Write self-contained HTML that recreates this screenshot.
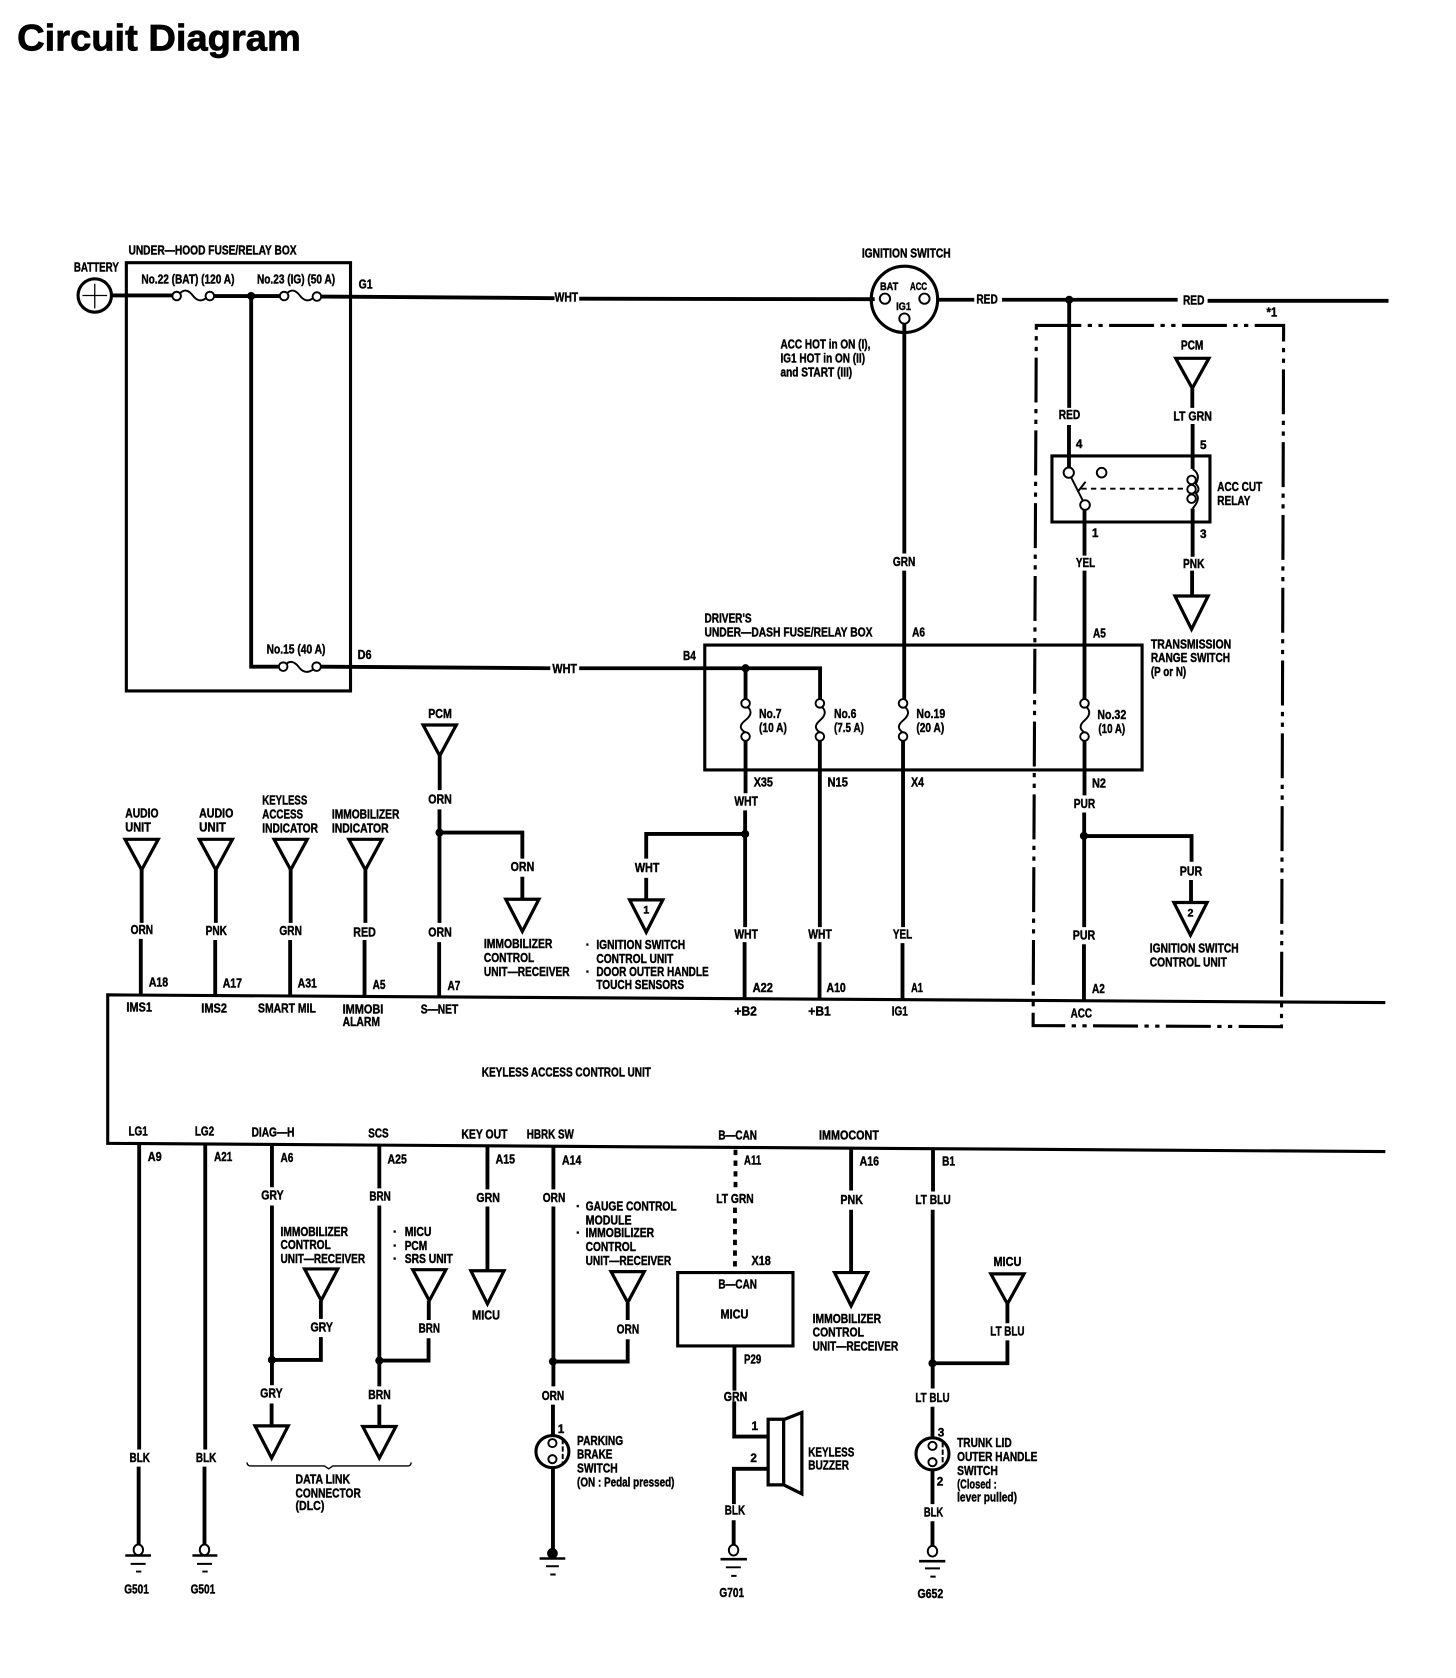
<!DOCTYPE html>
<html lang="en">
<head>
<meta charset="utf-8">
<title>Circuit Diagram</title>
<style>
html,body{margin:0;padding:0;background:#fff;width:1456px;height:1678px;overflow:hidden}
svg{display:block}
text{font-family:"Liberation Sans",sans-serif;font-weight:bold;font-size:12px;fill:#000;stroke:#000;stroke-width:.4}
.w{fill:none;stroke:#000;stroke-width:3.6}
.b{fill:none;stroke:#000;stroke-width:2.9}
.n{fill:none;stroke:#000;stroke-width:1.8}
.o{fill:#fff;stroke:#000;stroke-width:1.8}
.t{fill:#fff;stroke:#000;stroke-width:3}
.k{fill:#000;stroke:none}
</style>
</head>
<body>
<svg xmlns="http://www.w3.org/2000/svg" width="1456" height="1678" viewBox="0 0 1360 1567.4">
<rect width="1360" height="1567.4" fill="#fff"/>
<text x="16" y="47" textLength="265" lengthAdjust="spacingAndGlyphs" style="font-size:35px;stroke-width:.7">Circuit Diagram</text>

<!-- boxes -->
<path class="b" d="M118 245.4H327.4V645.4H118Z"/>
<path class="b" d="M658.3 602.5H1066.8V719.2H658.3Z"/>
<path class="b" d="M982.6 425.9H1130.2V487.6H982.6Z"/>
<path class="b" d="M633 1188.7H740.7V1257.2H633Z"/>
<path class="b" d="M1294 936.5L100.6 929.3V1068L1294 1075.7"/>
<path class="b" stroke-dasharray="42 6 4 6 4 6" d="M968 304H1199L1197 959L965 958Z"/>

<!-- top wires -->
<path class="w" d="M104 276H161M200 276.5H261M300 277L518 278.5M541 279L817 279.5M875 280H910M936 280H1100M1128 281H1297"/>
<path class="w" d="M234.6 276.5V622.7H260M300 622.7L514 624.2M541 624.2H766V653M696.4 624.2V653"/>
<circle class="k" cx="234.6" cy="276.5" r="3.8"/>
<circle class="k" cx="696.4" cy="624.2" r="3.8"/>
<circle class="k" cx="998.7" cy="280" r="3.8"/>

<!-- battery -->
<circle class="b" cx="88.5" cy="276" r="15.6"/>
<path class="n" d="M77 276H100M88.5 265V288" style="stroke-width:1.2"/>

<!-- horizontal fuses -->
<path class="n" d="M168 274Q174 268 180 276T193 278M268 274Q274 268 280 276T293 278M267 620.5Q273 615 279 623T293 625"/>
<circle class="o" cx="165" cy="276.5" r="4"/><circle class="o" cx="196" cy="276.5" r="4"/>
<circle class="o" cx="265.4" cy="276.5" r="4"/><circle class="o" cx="296" cy="277" r="4"/>
<circle class="o" cx="264.5" cy="622.7" r="4"/><circle class="o" cx="295.7" cy="622.7" r="4"/>

<!-- ignition switch -->
<circle class="b" cx="844.8" cy="279.6" r="31"/>
<circle class="o" cx="826.6" cy="279" r="4.8"/><circle class="o" cx="863.5" cy="279" r="4.8"/><circle class="o" cx="844.8" cy="297.6" r="4.8"/>

<!-- vertical through wires -->
<path class="w" d="M844.7 302V517M844.6 533V653M843.5 692V866M843 881V933"/>
<path class="w" d="M998.7 280V381M998.5 397V437"/>
<path class="w" d="M1013 476V519M1013 533V653M1013 692V743M1012.7 759V866M1012.5 882V935"/>
<path class="w" d="M1113.7 363V381M1114 396V438M1114 475V520M1113.5 533V557"/>
<path class="w" d="M696.4 692V741M696 757V866M695.5 880V933M696 779H603.6V802M603.6 820V840"/>
<path class="w" d="M765.8 692V866M765.5 880V933"/>
<path class="w" d="M1012.5 781H1113V805M1112.5 822V843"/>
<circle class="k" cx="696" cy="779" r="3.8"/>
<circle class="k" cx="1012.5" cy="780.8" r="3.8"/>

<!-- vertical fuses -->
<path class="n" d="M698 660Q705 666 696 673T698 685M767.5 660Q774 666 765.8 673T767.5 685M845 660Q852 666 843.5 673T845 685M1014.5 660Q1021 666 1013 673T1014.5 685"/>
<circle class="o" cx="696.4" cy="657" r="4"/><circle class="o" cx="696.4" cy="688" r="4"/>
<circle class="o" cx="765.8" cy="657" r="4"/><circle class="o" cx="765.8" cy="688" r="4"/>
<circle class="o" cx="843.5" cy="657" r="4"/><circle class="o" cx="843.5" cy="688" r="4"/>
<circle class="o" cx="1013" cy="657" r="4"/><circle class="o" cx="1013" cy="688" r="4"/>

<!-- relay -->
<path class="n" d="M998.3 441.5L1013.5 471.7M1007 459L1014 450"/>
<path class="n" stroke-dasharray="5 4" d="M1010 456.5H1107"/>
<circle class="o" cx="998.3" cy="441.5" r="4.8"/><circle class="o" cx="1029" cy="441.5" r="4.5"/><circle class="o" cx="1013.5" cy="471.7" r="4.5"/>
<path class="n" d="M1114 438Q1122 443 1117 452Q1122 457 1117 461Q1122 466 1114 475"/>
<circle class="n" cx="1113" cy="448.3" r="4"/><circle class="n" cx="1113" cy="457" r="4"/><circle class="n" cx="1113" cy="465.8" r="4"/>

<!-- input triangles -->
<path class="t" d="M1098.2 334.7H1129.2L1113.7 362.7Z"/>
<path class="t" d="M1097.5 556.7H1128.5L1113 587.8Z"/>
<path class="t" d="M116.8 784H147.8L132.3 812.6Z"/>
<path class="t" d="M186.1 784H217.1L201.6 812.6Z"/>
<path class="t" d="M256 784H287L271.5 812.6Z"/>
<path class="t" d="M325.8 784H356.8L341.3 812.6Z"/>
<path class="t" d="M395.2 677.2H426.2L410.7 706Z"/>
<path class="t" d="M472.4 840H503.4L487.9 870Z"/>
<path class="t" d="M588.1 840.6H619.1L603.6 870.8Z"/>
<path class="t" d="M1096.5 843H1127.5L1112 873.6Z"/>
<path class="w" d="M132.3 812V862M131.5 877V930M201.6 812V862M201 878V930M271.5 812V862M271 878V930M341.3 812V862M340.5 878V931"/>
<path class="w" d="M410.7 706V738M410.5 756V862M410.2 880V931M410.5 777.7H487.9V802M487.9 819V840"/>
<circle class="k" cx="410.5" cy="777.7" r="3.8"/>

<!-- lower wires -->
<path class="w" d="M130 1068V1354M129.5 1370V1443M191.7 1069V1354M191 1370V1443"/>
<path class="w" d="M254 1069V1109M254 1126V1294M253.7 1311V1332M254 1270.3H299.7V1249M299.7 1232V1215"/>
<path class="w" d="M354.3 1070V1110M354.3 1126V1295M354.3 1312V1332M354.3 1270.9H400.3V1250M400.5 1233V1215"/>
<path class="w" d="M455.3 1071V1111M455.3 1127V1187"/>
<path class="w" d="M516.9 1071V1111M516.9 1127V1295M516.5 1312V1341M516.5 1371V1450M516.5 1271.8H586.3V1251M586.3 1233V1217"/>
<path class="w" stroke-dasharray="5 5" d="M687 1074V1112M686.5 1128V1188"/>
<path class="w" d="M686 1258V1299M685.8 1309V1341.9H718M718 1372H685.5V1405M685.3 1420V1443"/>
<path class="w" d="M795 1073V1112M795 1130V1189"/>
<path class="w" d="M871.5 1074V1113M871.2 1130V1297M871 1314V1342M871 1373V1405M871 1421V1444M871 1273.4H941V1252M941 1236V1218"/>
<circle class="k" cx="254" cy="1270.3" r="3.8"/>
<circle class="k" cx="354.3" cy="1270.9" r="3.8"/>
<circle class="k" cx="516.5" cy="1271.8" r="3.8"/>
<circle class="k" cx="871" cy="1273.4" r="3.8"/>

<!-- lower triangles -->
<path class="t" d="M284.5 1185.3H315.5L300 1214.8Z"/>
<path class="t" d="M385.5 1186H416.5L401 1215Z"/>
<path class="t" d="M439.8 1187H470.8L455.3 1218Z"/>
<path class="t" d="M570.8 1187.8H601.8L586.3 1216.7Z"/>
<path class="t" d="M779.5 1188.7H810.5L795 1219.8Z"/>
<path class="t" d="M925.5 1189.9H956.5L941 1218Z"/>
<path class="t" d="M238.2 1331.9H269.2L253.7 1362Z"/>
<path class="t" d="M338.8 1332.5H369.8L354.3 1362Z"/>

<!-- brace -->
<path class="n" style="stroke-width:1.3" d="M230.7 1366Q231 1369.3 234 1369.3H303L307 1372L311 1369.3H381Q384 1369.3 384 1366"/>

<!-- switches -->
<ellipse class="b" cx="516" cy="1355.9" rx="15.4" ry="15"/>
<circle class="o" cx="516" cy="1348" r="3.8"/><circle class="o" cx="516" cy="1363" r="3.8"/>
<path class="n" stroke-dasharray="5 2" d="M525.6 1344V1368"/>
<ellipse class="b" cx="871" cy="1358" rx="15.4" ry="15"/>
<circle class="o" cx="871" cy="1350.6" r="3.8"/><circle class="o" cx="871" cy="1365.8" r="3.8"/>
<path class="n" stroke-dasharray="5 2" d="M880.5 1347V1371"/>

<!-- buzzer -->
<path class="t" d="M717.5 1325.7H732V1387H717.5Z"/>
<path class="t" d="M732 1326L749 1319.4V1395.4L732 1387Z"/>

<!-- grounds -->
<ellipse class="o" cx="129.2" cy="1447.7" rx="4.4" ry="5"/>
<ellipse class="o" cx="191" cy="1447.7" rx="4.4" ry="5"/>
<ellipse class="o" cx="685.2" cy="1448" rx="4.4" ry="5"/>
<ellipse class="o" cx="871" cy="1449" rx="4.4" ry="5"/>
<circle class="k" cx="516" cy="1451" r="5"/>
<path class="n" d="M117 1453H141M179.7 1453H203M504 1455.8H528M673 1456.4H697.7M858.5 1458.3H883" style="stroke-width:2.4"/>
<path class="n" d="M122 1460.8H136M127 1468H132M184 1460.8H198M189 1468H194M510 1463H522M514 1470.7H519M678 1464H692M683 1472H688M864 1465H878M869 1472.7H874"/>

<!-- labels -->
<g transform="translate(0,-0.8)">
<text x="120" y="238.4" textLength="157" lengthAdjust="spacingAndGlyphs">UNDER—HOOD FUSE/RELAY BOX</text>
<text x="69" y="254.4" textLength="42" lengthAdjust="spacingAndGlyphs">BATTERY</text>
<text x="132" y="265.4" textLength="87" lengthAdjust="spacingAndGlyphs">No.22 (BAT) (120 A)</text>
<text x="240" y="265.4" textLength="73" lengthAdjust="spacingAndGlyphs">No.23 (IG) (50 A)</text>
<text x="335" y="270.4" textLength="13" lengthAdjust="spacingAndGlyphs">G1</text>
<text x="518" y="282.4" textLength="22" lengthAdjust="spacingAndGlyphs">WHT</text>
<text x="805" y="241.4" textLength="83" lengthAdjust="spacingAndGlyphs">IGNITION SWITCH</text>
<text x="822" y="271.5" textLength="17" lengthAdjust="spacingAndGlyphs" style="font-size:10px">BAT</text>
<text x="850" y="271.5" textLength="16" lengthAdjust="spacingAndGlyphs" style="font-size:10px">ACC</text>
<text x="837" y="290.5" textLength="14" lengthAdjust="spacingAndGlyphs" style="font-size:10px">IG1</text>
<text x="912" y="284.4" textLength="20" lengthAdjust="spacingAndGlyphs">RED</text>
<text x="1105" y="285.4" textLength="20" lengthAdjust="spacingAndGlyphs">RED</text>
<text x="1183" y="296.4" textLength="10" lengthAdjust="spacingAndGlyphs">*1</text>
<text x="729" y="326.4" textLength="84" lengthAdjust="spacingAndGlyphs">ACC HOT in ON (I),</text>
<text x="729" y="339.4" textLength="79" lengthAdjust="spacingAndGlyphs">IG1 HOT in ON (II)</text>
<text x="729" y="352.4" textLength="67" lengthAdjust="spacingAndGlyphs">and START (III)</text>
<text x="1103" y="327.4" textLength="21" lengthAdjust="spacingAndGlyphs">PCM</text>
<text x="989" y="392.4" textLength="20" lengthAdjust="spacingAndGlyphs">RED</text>
<text x="1096" y="393.4" textLength="36" lengthAdjust="spacingAndGlyphs">LT GRN</text>
<text x="1008" y="419.4" text-anchor="middle" style="font-size:11px">4</text>
<text x="1124" y="420.4" text-anchor="middle" style="font-size:11px">5</text>
<text x="1137" y="459.4" textLength="42" lengthAdjust="spacingAndGlyphs">ACC CUT</text>
<text x="1137" y="472.4" textLength="31" lengthAdjust="spacingAndGlyphs">RELAY</text>
<text x="1023" y="502.4" text-anchor="middle" style="font-size:11px">1</text>
<text x="1124" y="503.4" text-anchor="middle" style="font-size:11px">3</text>
<text x="834" y="529.4" textLength="21" lengthAdjust="spacingAndGlyphs">GRN</text>
<text x="1005" y="530.4" textLength="18" lengthAdjust="spacingAndGlyphs">YEL</text>
<text x="1105" y="531.4" textLength="20" lengthAdjust="spacingAndGlyphs">PNK</text>
<text x="658" y="582.4" textLength="44" lengthAdjust="spacingAndGlyphs">DRIVER'S</text>
<text x="658" y="595.4" textLength="157" lengthAdjust="spacingAndGlyphs">UNDER—DASH FUSE/RELAY BOX</text>
<text x="852" y="595.4" textLength="12" lengthAdjust="spacingAndGlyphs">A6</text>
<text x="1021" y="596.4" textLength="12" lengthAdjust="spacingAndGlyphs">A5</text>
<text x="1075" y="606.4" textLength="75" lengthAdjust="spacingAndGlyphs">TRANSMISSION</text>
<text x="1075" y="619.4" textLength="74" lengthAdjust="spacingAndGlyphs">RANGE SWITCH</text>
<text x="1075" y="632.4" textLength="33" lengthAdjust="spacingAndGlyphs">(P or N)</text>
<text x="249" y="611.4" textLength="55" lengthAdjust="spacingAndGlyphs">No.15 (40 A)</text>
<text x="334" y="616.4" textLength="13" lengthAdjust="spacingAndGlyphs">D6</text>
<text x="516" y="629.4" textLength="23" lengthAdjust="spacingAndGlyphs">WHT</text>
<text x="638" y="617.4" textLength="12" lengthAdjust="spacingAndGlyphs">B4</text>
<text x="400" y="671.4" textLength="22" lengthAdjust="spacingAndGlyphs">PCM</text>
<text x="709" y="671.4" textLength="21" lengthAdjust="spacingAndGlyphs">No.7</text>
<text x="709" y="684.4" textLength="26" lengthAdjust="spacingAndGlyphs">(10 A)</text>
<text x="779" y="671.4" textLength="21" lengthAdjust="spacingAndGlyphs">No.6</text>
<text x="779" y="684.4" textLength="28" lengthAdjust="spacingAndGlyphs">(7.5 A)</text>
<text x="856" y="671.4" textLength="27" lengthAdjust="spacingAndGlyphs">No.19</text>
<text x="856" y="684.4" textLength="26" lengthAdjust="spacingAndGlyphs">(20 A)</text>
<text x="1025" y="672.4" textLength="27" lengthAdjust="spacingAndGlyphs">No.32</text>
<text x="1026" y="685.4" textLength="25" lengthAdjust="spacingAndGlyphs">(10 A)</text>
<text x="704" y="735.4" textLength="18" lengthAdjust="spacingAndGlyphs">X35</text>
<text x="773" y="735.4" textLength="19" lengthAdjust="spacingAndGlyphs">N15</text>
<text x="851" y="735.4" textLength="12" lengthAdjust="spacingAndGlyphs">X4</text>
<text x="1020" y="736.4" textLength="13" lengthAdjust="spacingAndGlyphs">N2</text>
<text x="686" y="753.4" textLength="22" lengthAdjust="spacingAndGlyphs">WHT</text>
<text x="400" y="751.4" textLength="22" lengthAdjust="spacingAndGlyphs">ORN</text>
<text x="1003" y="755.4" textLength="20" lengthAdjust="spacingAndGlyphs">PUR</text>
<text x="117" y="764.4" textLength="31" lengthAdjust="spacingAndGlyphs">AUDIO</text>
<text x="117" y="777.4" textLength="24" lengthAdjust="spacingAndGlyphs">UNIT</text>
<text x="186" y="764.4" textLength="32" lengthAdjust="spacingAndGlyphs">AUDIO</text>
<text x="186" y="777.4" textLength="25" lengthAdjust="spacingAndGlyphs">UNIT</text>
<text x="245" y="752.4" textLength="42" lengthAdjust="spacingAndGlyphs">KEYLESS</text>
<text x="245" y="765.4" textLength="38" lengthAdjust="spacingAndGlyphs">ACCESS</text>
<text x="245" y="778.4" textLength="52" lengthAdjust="spacingAndGlyphs">INDICATOR</text>
<text x="310" y="765.4" textLength="63" lengthAdjust="spacingAndGlyphs">IMMOBILIZER</text>
<text x="310" y="778.4" textLength="53" lengthAdjust="spacingAndGlyphs">INDICATOR</text>
<text x="122" y="873.4" textLength="21" lengthAdjust="spacingAndGlyphs">ORN</text>
<text x="192" y="874.4" textLength="20" lengthAdjust="spacingAndGlyphs">PNK</text>
<text x="261" y="874.4" textLength="21" lengthAdjust="spacingAndGlyphs">GRN</text>
<text x="330" y="875.4" textLength="21" lengthAdjust="spacingAndGlyphs">RED</text>
<text x="400" y="875.4" textLength="22" lengthAdjust="spacingAndGlyphs">ORN</text>
<text x="477" y="814.4" textLength="22" lengthAdjust="spacingAndGlyphs">ORN</text>
<text x="593" y="815.4" textLength="23" lengthAdjust="spacingAndGlyphs">WHT</text>
<text x="1102" y="818.4" textLength="21" lengthAdjust="spacingAndGlyphs">PUR</text>
<text x="603.6" y="854" text-anchor="middle" style="font-size:10px">1</text>
<text x="1112" y="857" text-anchor="middle" style="font-size:10px">2</text>
<text x="452" y="886.4" textLength="64" lengthAdjust="spacingAndGlyphs">IMMOBILIZER</text>
<text x="452" y="899.4" textLength="47" lengthAdjust="spacingAndGlyphs">CONTROL</text>
<text x="452" y="912.4" textLength="80" lengthAdjust="spacingAndGlyphs">UNIT—RECEIVER</text>
<text x="547" y="887.4">·</text>
<text x="547" y="912.4">·</text>
<text x="557" y="887.4" textLength="83" lengthAdjust="spacingAndGlyphs">IGNITION SWITCH</text>
<text x="557" y="900.4" textLength="72" lengthAdjust="spacingAndGlyphs">CONTROL UNIT</text>
<text x="557" y="912.4" textLength="105" lengthAdjust="spacingAndGlyphs">DOOR OUTER HANDLE</text>
<text x="557" y="924.4" textLength="82" lengthAdjust="spacingAndGlyphs">TOUCH SENSORS</text>
<text x="686" y="877.4" textLength="22" lengthAdjust="spacingAndGlyphs">WHT</text>
<text x="755" y="877.4" textLength="22" lengthAdjust="spacingAndGlyphs">WHT</text>
<text x="834" y="877.4" textLength="18" lengthAdjust="spacingAndGlyphs">YEL</text>
<text x="1002" y="878.4" textLength="21" lengthAdjust="spacingAndGlyphs">PUR</text>
<text x="1074" y="890.4" textLength="83" lengthAdjust="spacingAndGlyphs">IGNITION SWITCH</text>
<text x="1074" y="903.4" textLength="72" lengthAdjust="spacingAndGlyphs">CONTROL UNIT</text>
<text x="139" y="922.4" textLength="18" lengthAdjust="spacingAndGlyphs">A18</text>
<text x="208" y="923.4" textLength="18" lengthAdjust="spacingAndGlyphs">A17</text>
<text x="278" y="923.4" textLength="18" lengthAdjust="spacingAndGlyphs">A31</text>
<text x="348" y="924.4" textLength="12" lengthAdjust="spacingAndGlyphs">A5</text>
<text x="418" y="925.4" textLength="12" lengthAdjust="spacingAndGlyphs">A7</text>
<text x="703" y="927.4" textLength="19" lengthAdjust="spacingAndGlyphs">A22</text>
<text x="772" y="927.4" textLength="18" lengthAdjust="spacingAndGlyphs">A10</text>
<text x="851" y="927.4" textLength="11" lengthAdjust="spacingAndGlyphs">A1</text>
<text x="1020" y="928.4" textLength="12" lengthAdjust="spacingAndGlyphs">A2</text>
<text x="118" y="945.4" textLength="24" lengthAdjust="spacingAndGlyphs">IMS1</text>
<text x="188" y="946.4" textLength="24" lengthAdjust="spacingAndGlyphs">IMS2</text>
<text x="241" y="946.4" textLength="54" lengthAdjust="spacingAndGlyphs">SMART MIL</text>
<text x="320" y="947.4" textLength="38" lengthAdjust="spacingAndGlyphs">IMMOBI</text>
<text x="320" y="959.4" textLength="35" lengthAdjust="spacingAndGlyphs">ALARM</text>
<text x="393" y="947.4" textLength="35" lengthAdjust="spacingAndGlyphs">S—NET</text>
<text x="686" y="949.4" textLength="21" lengthAdjust="spacingAndGlyphs">+B2</text>
<text x="755" y="949.4" textLength="21" lengthAdjust="spacingAndGlyphs">+B1</text>
<text x="833" y="949.4" textLength="15" lengthAdjust="spacingAndGlyphs">IG1</text>
<text x="1000" y="951.4" textLength="20" lengthAdjust="spacingAndGlyphs">ACC</text>
<text x="450" y="1006.4" textLength="158" lengthAdjust="spacingAndGlyphs">KEYLESS ACCESS CONTROL UNIT</text>
<text x="120" y="1061.4" textLength="18" lengthAdjust="spacingAndGlyphs">LG1</text>
<text x="182" y="1061.4" textLength="18" lengthAdjust="spacingAndGlyphs">LG2</text>
<text x="235" y="1062.4" textLength="40" lengthAdjust="spacingAndGlyphs">DIAG—H</text>
<text x="344" y="1063.4" textLength="19" lengthAdjust="spacingAndGlyphs">SCS</text>
<text x="431" y="1064.4" textLength="43" lengthAdjust="spacingAndGlyphs">KEY OUT</text>
<text x="492" y="1064.4" textLength="44" lengthAdjust="spacingAndGlyphs">HBRK SW</text>
<text x="671" y="1065.4" textLength="36" lengthAdjust="spacingAndGlyphs">B—CAN</text>
<text x="765" y="1065.4" textLength="56" lengthAdjust="spacingAndGlyphs">IMMOCONT</text>
<text x="138" y="1085.4" textLength="13" lengthAdjust="spacingAndGlyphs">A9</text>
<text x="200" y="1085.4" textLength="17" lengthAdjust="spacingAndGlyphs">A21</text>
<text x="262" y="1086.4" textLength="12" lengthAdjust="spacingAndGlyphs">A6</text>
<text x="362" y="1087.4" textLength="18" lengthAdjust="spacingAndGlyphs">A25</text>
<text x="463" y="1087.4" textLength="18" lengthAdjust="spacingAndGlyphs">A15</text>
<text x="525" y="1088.4" textLength="18" lengthAdjust="spacingAndGlyphs">A14</text>
<text x="695" y="1088.4" textLength="16" lengthAdjust="spacingAndGlyphs">A11</text>
<text x="803" y="1089.4" textLength="18" lengthAdjust="spacingAndGlyphs">A16</text>
<text x="880" y="1089.4" textLength="12" lengthAdjust="spacingAndGlyphs">B1</text>
<text x="244" y="1121.4" textLength="21" lengthAdjust="spacingAndGlyphs">GRY</text>
<text x="345" y="1122.4" textLength="20" lengthAdjust="spacingAndGlyphs">BRN</text>
<text x="445" y="1123.4" textLength="22" lengthAdjust="spacingAndGlyphs">GRN</text>
<text x="507" y="1123.4" textLength="21" lengthAdjust="spacingAndGlyphs">ORN</text>
<text x="669" y="1124.4" textLength="35" lengthAdjust="spacingAndGlyphs">LT GRN</text>
<text x="785" y="1125.4" textLength="21" lengthAdjust="spacingAndGlyphs">PNK</text>
<text x="855" y="1125.4" textLength="33" lengthAdjust="spacingAndGlyphs">LT BLU</text>
<text x="262" y="1155.4" textLength="63" lengthAdjust="spacingAndGlyphs">IMMOBILIZER</text>
<text x="262" y="1167.4" textLength="47" lengthAdjust="spacingAndGlyphs">CONTROL</text>
<text x="262" y="1180.4" textLength="79" lengthAdjust="spacingAndGlyphs">UNIT—RECEIVER</text>
<text x="367" y="1155.4">·</text>
<text x="367" y="1168.4">·</text>
<text x="367" y="1180.4">·</text>
<text x="378" y="1155.4" textLength="25" lengthAdjust="spacingAndGlyphs">MICU</text>
<text x="378" y="1168.4" textLength="21" lengthAdjust="spacingAndGlyphs">PCM</text>
<text x="378" y="1180.4" textLength="45" lengthAdjust="spacingAndGlyphs">SRS UNIT</text>
<text x="441" y="1233.4" textLength="26" lengthAdjust="spacingAndGlyphs">MICU</text>
<text x="538" y="1131.4">·</text>
<text x="538" y="1156.4">·</text>
<text x="547" y="1131.4" textLength="85" lengthAdjust="spacingAndGlyphs">GAUGE CONTROL</text>
<text x="547" y="1144.4" textLength="43" lengthAdjust="spacingAndGlyphs">MODULE</text>
<text x="547" y="1156.4" textLength="64" lengthAdjust="spacingAndGlyphs">IMMOBILIZER</text>
<text x="547" y="1169.4" textLength="47" lengthAdjust="spacingAndGlyphs">CONTROL</text>
<text x="547" y="1182.4" textLength="80" lengthAdjust="spacingAndGlyphs">UNIT—RECEIVER</text>
<text x="702" y="1182.4" textLength="18" lengthAdjust="spacingAndGlyphs">X18</text>
<text x="671" y="1204.4" textLength="36" lengthAdjust="spacingAndGlyphs">B—CAN</text>
<text x="673" y="1232.4" textLength="26" lengthAdjust="spacingAndGlyphs">MICU</text>
<text x="695" y="1274.4" textLength="16" lengthAdjust="spacingAndGlyphs">P29</text>
<text x="759" y="1236.4" textLength="64" lengthAdjust="spacingAndGlyphs">IMMOBILIZER</text>
<text x="759" y="1249.4" textLength="48" lengthAdjust="spacingAndGlyphs">CONTROL</text>
<text x="759" y="1262.4" textLength="80" lengthAdjust="spacingAndGlyphs">UNIT—RECEIVER</text>
<text x="928" y="1183.4" textLength="26" lengthAdjust="spacingAndGlyphs">MICU</text>
<text x="925" y="1248.4" textLength="32" lengthAdjust="spacingAndGlyphs">LT BLU</text>
<text x="290" y="1244.4" textLength="21" lengthAdjust="spacingAndGlyphs">GRY</text>
<text x="391" y="1245.4" textLength="20" lengthAdjust="spacingAndGlyphs">BRN</text>
<text x="576" y="1246.4" textLength="21" lengthAdjust="spacingAndGlyphs">ORN</text>
<text x="243" y="1306.4" textLength="21" lengthAdjust="spacingAndGlyphs">GRY</text>
<text x="344" y="1307.4" textLength="21" lengthAdjust="spacingAndGlyphs">BRN</text>
<text x="506" y="1308.4" textLength="21" lengthAdjust="spacingAndGlyphs">ORN</text>
<text x="676" y="1309.4" textLength="22" lengthAdjust="spacingAndGlyphs">GRN</text>
<text x="855" y="1310.4" textLength="32" lengthAdjust="spacingAndGlyphs">LT BLU</text>
<text x="524" y="1339.4" text-anchor="middle" style="font-size:11px">1</text>
<text x="705" y="1336.4" text-anchor="middle" style="font-size:11px">1</text>
<text x="704" y="1366.4" text-anchor="middle" style="font-size:11px">2</text>
<text x="879" y="1342.4" text-anchor="middle" style="font-size:11px">3</text>
<text x="878" y="1388.4" text-anchor="middle" style="font-size:11px">2</text>
<text x="539" y="1350.4" textLength="43" lengthAdjust="spacingAndGlyphs">PARKING</text>
<text x="539" y="1363.4" textLength="33" lengthAdjust="spacingAndGlyphs">BRAKE</text>
<text x="539" y="1376.4" textLength="38" lengthAdjust="spacingAndGlyphs">SWITCH</text>
<text x="539" y="1389.4" textLength="91" lengthAdjust="spacingAndGlyphs">(ON : Pedal pressed)</text>
<text x="121" y="1366.4" textLength="19" lengthAdjust="spacingAndGlyphs">BLK</text>
<text x="183" y="1366.4" textLength="19" lengthAdjust="spacingAndGlyphs">BLK</text>
<text x="677" y="1415.4" textLength="19" lengthAdjust="spacingAndGlyphs">BLK</text>
<text x="863" y="1417.4" textLength="18" lengthAdjust="spacingAndGlyphs">BLK</text>
<text x="755" y="1361.4" textLength="43" lengthAdjust="spacingAndGlyphs">KEYLESS</text>
<text x="755" y="1373.4" textLength="38" lengthAdjust="spacingAndGlyphs">BUZZER</text>
<text x="894" y="1352.4" textLength="51" lengthAdjust="spacingAndGlyphs">TRUNK LID</text>
<text x="894" y="1365.4" textLength="75" lengthAdjust="spacingAndGlyphs">OUTER HANDLE</text>
<text x="894" y="1378.4" textLength="38" lengthAdjust="spacingAndGlyphs">SWITCH</text>
<text x="894" y="1391.4" textLength="37" lengthAdjust="spacingAndGlyphs">(Closed :</text>
<text x="894" y="1403.4" textLength="56" lengthAdjust="spacingAndGlyphs">lever pulled)</text>
<text x="276" y="1386.4" textLength="51" lengthAdjust="spacingAndGlyphs">DATA LINK</text>
<text x="276" y="1399.4" textLength="61" lengthAdjust="spacingAndGlyphs">CONNECTOR</text>
<text x="276" y="1411.4" textLength="27" lengthAdjust="spacingAndGlyphs">(DLC)</text>
<text x="116" y="1489.4" textLength="23" lengthAdjust="spacingAndGlyphs">G501</text>
<text x="178" y="1489.4" textLength="23" lengthAdjust="spacingAndGlyphs">G501</text>
<text x="672" y="1492.4" textLength="23" lengthAdjust="spacingAndGlyphs">G701</text>
<text x="857" y="1493.4" textLength="24" lengthAdjust="spacingAndGlyphs">G652</text>
</g>
</svg>
</body>
</html>
